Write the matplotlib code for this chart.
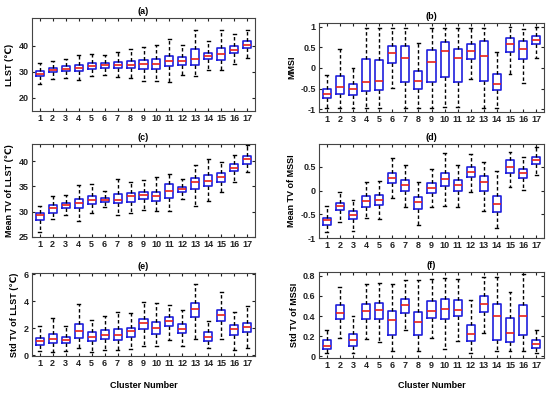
import matplotlib
matplotlib.use("Agg")
import matplotlib.pyplot as plt

plt.rcParams['font.family'] = ['Liberation Sans', 'DejaVu Sans']
plt.rcParams['font.weight'] = 'bold'

clusters = list(range(1, 18))

# Panel (a) LLST (°C): [whislo, q1, med, q3, whishi]
a_lo  = [25.3, 27.2, 27.6, 26.8, 28.3, 28.7, 28.0, 27.5, 26.6, 26.6, 26.0, 28.6, 28.5, 30.8, 30.6, 32.9, 35.2]
a_q1  = [28.3, 29.8, 30.3, 30.2, 31.2, 31.4, 31.4, 31.3, 31.2, 31.2, 32.0, 32.5, 32.6, 35.0, 34.5, 37.0, 39.0]
a_med = [29.2, 30.6, 31.1, 31.4, 32.2, 32.4, 32.6, 32.7, 33.0, 32.8, 34.0, 34.0, 34.7, 36.0, 36.8, 38.4, 40.3]
a_q3  = [30.4, 31.5, 32.0, 32.7, 33.2, 33.2, 33.6, 34.0, 34.5, 34.8, 36.0, 35.5, 38.7, 37.3, 39.0, 39.7, 41.8]
a_hi  = [33.2, 34.2, 34.8, 36.5, 36.6, 36.5, 37.6, 38.6, 39.6, 40.3, 42.3, 40.1, 46.1, 41.6, 46.1, 44.3, 45.9]

# Panel (b) MMSI
b_lo  = [-0.98, -0.98, -0.98, -0.98, -0.98, -0.48, -0.98, -0.98, -0.98, -0.96, -0.96, -0.28, -0.98, -0.98, -0.14, -0.36, 0.24]
b_q1  = [-0.74, -0.64, -0.66, -0.57, -0.53, 0.12, -0.35, -0.52, -0.34, -0.21, -0.34, 0.22, -0.31, -0.53, 0.38, 0.22, 0.57]
b_med = [-0.63, -0.47, -0.52, -0.35, -0.31, 0.36, 0.24, -0.32, 0.14, 0.41, 0.25, 0.42, 0.28, -0.39, 0.57, 0.46, 0.68]
b_q3  = [-0.52, -0.20, -0.38, 0.21, 0.19, 0.52, 0.52, -0.07, 0.44, 0.62, 0.47, 0.58, 0.66, -0.15, 0.73, 0.65, 0.77]
b_hi  = [-0.18, 0.45, 0.00, 0.97, 0.97, 0.98, 0.97, 0.60, 0.97, 0.98, 0.97, 0.98, 0.97, 0.38, 0.99, 0.95, 0.99]

# Panel (c) Mean TV of LLST (°C)
c_lo  = [26.0, 28.5, 29.3, 28.1, 29.8, 30.9, 29.4, 29.8, 30.4, 30.1, 30.2, 32.5, 31.1, 32.1, 34.0, 35.9, 37.8]
c_q1  = [28.3, 29.8, 30.7, 30.7, 31.5, 32.0, 31.7, 32.0, 32.6, 32.1, 32.8, 33.9, 34.4, 35.1, 35.9, 38.0, 39.5]
c_med = [29.4, 30.7, 31.3, 31.8, 32.3, 32.4, 32.3, 33.2, 33.4, 33.2, 34.2, 34.4, 35.8, 36.0, 36.8, 38.7, 40.4]
c_q3  = [29.8, 31.3, 31.8, 32.6, 33.1, 32.8, 33.6, 33.8, 33.9, 34.0, 35.4, 34.8, 36.6, 37.2, 37.6, 39.4, 41.1]
c_hi  = [31.1, 33.1, 33.4, 35.2, 35.4, 34.1, 36.4, 35.9, 36.2, 36.8, 37.4, 36.4, 39.3, 40.5, 39.9, 41.3, 43.2]

# Panel (d) Mean TV of MSSI
d_lo  = [-0.88, -0.67, -0.85, -0.57, -0.61, -0.15, -0.35, -0.73, -0.34, -0.32, -0.34, -0.04, -0.43, -0.78, 0.07, 0.01, 0.33]
d_q1  = [-0.73, -0.42, -0.61, -0.35, -0.30, 0.15, -0.01, -0.39, -0.06, 0.10, -0.01, 0.29, -0.01, -0.46, 0.37, 0.27, 0.56]
d_med = [-0.63, -0.33, -0.51, -0.23, -0.20, 0.27, 0.11, -0.25, 0.06, 0.24, 0.11, 0.38, 0.17, -0.28, 0.50, 0.36, 0.65]
d_q3  = [-0.57, -0.27, -0.44, -0.12, -0.09, 0.37, 0.23, -0.13, 0.15, 0.37, 0.23, 0.49, 0.30, -0.11, 0.65, 0.46, 0.71]
d_hi  = [-0.32, -0.04, -0.20, 0.18, 0.20, 0.68, 0.54, 0.18, 0.46, 0.78, 0.53, 0.77, 0.60, 0.42, 0.82, 0.71, 0.91]

# Panel (e) Std TV of LLST (°C)
e_lo  = [0.33, 0.28, 0.33, 0.53, 0.28, 0.40, 0.40, 0.46, 0.71, 0.71, 1.16, 0.71, 1.22, 0.53, 1.19, 0.38, 0.53]
e_q1  = [0.78, 0.89, 0.94, 1.29, 1.04, 1.22, 1.14, 1.34, 1.92, 1.60, 2.15, 1.65, 2.81, 1.09, 2.53, 1.47, 1.70]
e_med = [1.09, 1.22, 1.16, 1.77, 1.39, 1.54, 1.52, 1.77, 2.40, 2.03, 2.53, 1.97, 3.44, 1.39, 2.99, 1.92, 2.10]
e_q3  = [1.29, 1.60, 1.39, 2.35, 1.70, 1.90, 1.92, 2.05, 2.66, 2.48, 2.86, 2.30, 3.87, 1.70, 3.37, 2.23, 2.41]
e_hi  = [2.18, 2.73, 2.15, 3.82, 2.60, 2.91, 3.19, 3.11, 3.92, 3.87, 3.75, 3.37, 5.27, 2.53, 4.71, 3.24, 3.62]

# Panel (f) Std TV of MSSI
f_lo  = [0.03, 0.18, 0.03, 0.17, 0.14, 0.05, 0.26, 0.05, 0.18, 0.07, 0.15, 0.03, 0.23, 0.05, 0.05, 0.05, 0.03]
f_q1  = [0.076, 0.37, 0.10, 0.37, 0.37, 0.21, 0.43, 0.21, 0.38, 0.37, 0.40, 0.15, 0.44, 0.16, 0.14, 0.21, 0.08]
f_med = [0.105, 0.43, 0.16, 0.45, 0.46, 0.36, 0.51, 0.34, 0.45, 0.47, 0.46, 0.22, 0.52, 0.40, 0.23, 0.40, 0.12]
f_q3  = [0.16, 0.51, 0.22, 0.52, 0.53, 0.45, 0.57, 0.44, 0.55, 0.57, 0.56, 0.31, 0.60, 0.52, 0.38, 0.51, 0.16]
f_hi  = [0.26, 0.69, 0.40, 0.72, 0.73, 0.72, 0.76, 0.76, 0.77, 0.78, 0.77, 0.56, 0.79, 0.79, 0.64, 0.82, 0.26]

W, H = 550, 394
fig = plt.figure(figsize=(W / 100, H / 100), dpi=100)
fig.patch.set_facecolor('white')


def px_axes(left, right, top, bottom):
    return fig.add_axes([left / W, 1 - bottom / H, (right - left) / W, (bottom - top) / H])


panels = [
    dict(pos=(32, 255, 18, 111), data=(a_lo, a_q1, a_med, a_q3, a_hi), title='(a)',
         ylabel='LLST (\u2103)', ylim=(15, 50.5), yticks=[20, 30, 40], yfmt=None),
    dict(pos=(319, 544, 23, 112), data=(b_lo, b_q1, b_med, b_q3, b_hi), title='(b)',
         ylabel='MMSI', ylim=(-1.07, 1.09), yticks=[-1, -0.5, 0, 0.5, 1], yfmt=['-1', '-0.5', '0', '0.5', '1']),
    dict(pos=(32, 255, 144, 237), data=(c_lo, c_q1, c_med, c_q3, c_hi), title='(c)',
         ylabel='Mean TV of LLST (\u2103)', ylim=(25, 43.4), yticks=[25, 30, 35, 40], yfmt=None),
    dict(pos=(319, 544, 144, 238), data=(d_lo, d_q1, d_med, d_q3, d_hi), title='(d)',
         ylabel='Mean TV of MSSI', ylim=(-1.0, 0.98), yticks=[-1, -0.5, 0, 0.5], yfmt=['-1', '-0.5', '0', '0.5']),
    dict(pos=(32, 255, 273, 356), data=(e_lo, e_q1, e_med, e_q3, e_hi), title='(e)',
         ylabel='Std TV of LLST (\u2103)', ylim=(-0.05, 6.1), yticks=[0, 2, 4, 6], yfmt=None),
    dict(pos=(319, 544, 272, 358), data=(f_lo, f_q1, f_med, f_q3, f_hi), title='(f)',
         ylabel='Std TV of MSSI', ylim=(-0.015, 0.835), yticks=[0, 0.2, 0.4, 0.6, 0.8],
         yfmt=['0', '0.2', '0.4', '0.6', '0.8']),
]

FS = 6.5
for p in panels:
    ax = px_axes(*p['pos'])
    lo, q1, med, q3, hi = p['data']
    stats = [dict(whislo=lo[i], q1=q1[i], med=med[i], q3=q3[i], whishi=hi[i], fliers=[])
             for i in range(len(clusters))]
    ax.bxp(stats, positions=clusters, widths=0.62, capwidths=0.22, showfliers=False,
           boxprops=dict(color='#1f1fdd', linewidth=1.2),
           medianprops=dict(color='#e8201a', linewidth=1.2),
           whiskerprops=dict(color='black', linewidth=1.0, linestyle=(0, (2.5, 1.8))),
           capprops=dict(color='black', linewidth=1.0))
    ax.set_xlim(0.4, 17.6)
    ax.set_ylim(*p['ylim'])
    ax.set_xticks(clusters)
    ax.set_xticklabels([str(c) for c in clusters], fontsize=FS, fontweight='bold')
    ax.set_yticks(p['yticks'])
    if p['yfmt'] is not None:
        ax.set_yticklabels(p['yfmt'])
    for lab in ax.get_yticklabels():
        lab.set_fontsize(FS)
        lab.set_fontweight('bold')
    ax.tick_params(direction='in', length=2.5, width=0.8, top=True, right=True, pad=2.5, colors='#222222')
    for s in ax.spines.values():
        s.set_color('#444444')
        s.set_linewidth(0.8)
    ax.set_title(p['title'], fontsize=FS, fontweight='bold', pad=3)
    ax.set_ylabel(p['ylabel'], fontsize=FS, fontweight='bold', labelpad=3)

fig.text(143.5 / W, 1 - 386 / H, 'Cluster Number', ha='center', va='center', fontsize=FS, fontweight='bold')
fig.text(431.5 / W, 1 - 386 / H, 'Cluster Number', ha='center', va='center', fontsize=FS, fontweight='bold')

fig.savefig('out.png', dpi=100, facecolor='white')
